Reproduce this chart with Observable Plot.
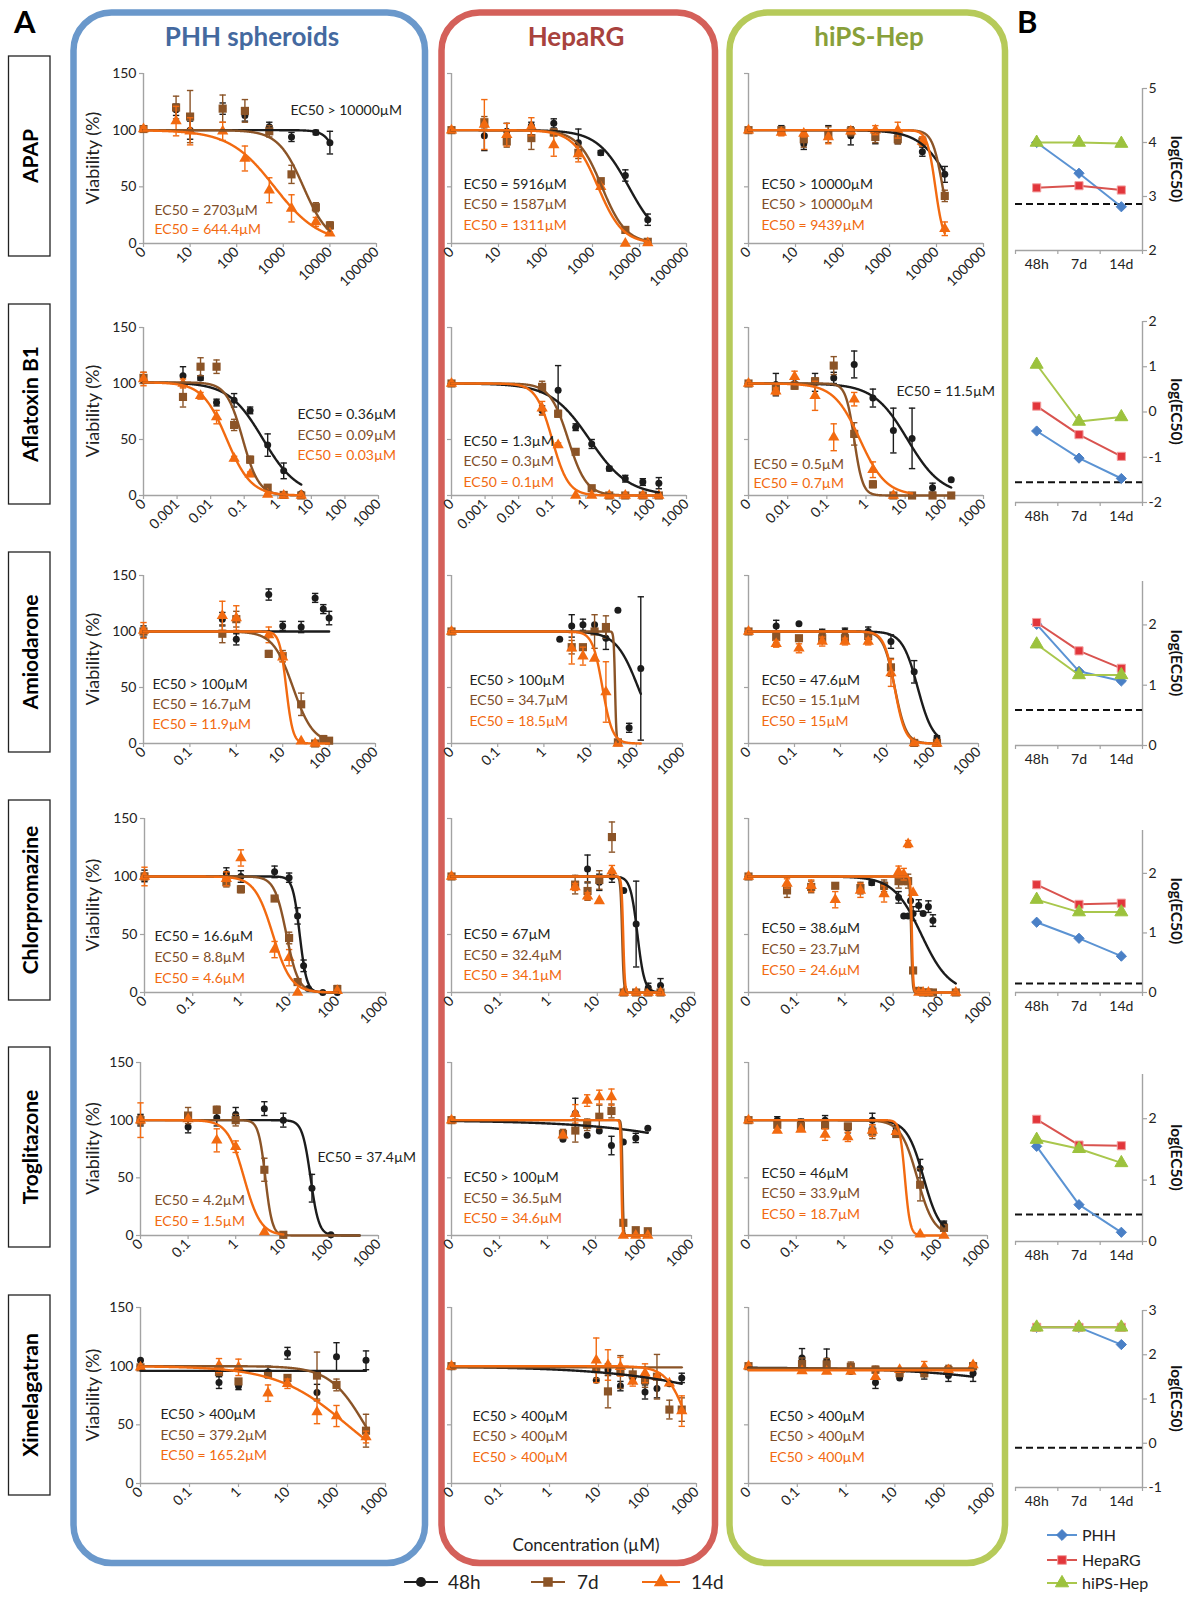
<!DOCTYPE html>
<html>
<head>
<meta charset="utf-8">
<script src="https://cdn.jsdelivr.net/npm/d3@7"></script>
<script src="https://cdn.jsdelivr.net/npm/@observablehq/plot@0.6"></script>
<style>
  html, body { margin: 0; padding: 0; background: #fff; }
  #root { position: relative; width: 1194px; height: 1597px; background: #fff; overflow: hidden; font-family: Lato, "Noto Sans", sans-serif; }
  #root > svg, #root > .pp { position: absolute; }
</style>
</head>
<body>
<div id="root"></div>
<script>
// ---------------- categories & labels ----------------
const drugs = ["APAP", "Aflatoxin B1", "Amiodarone", "Chlorpromazine", "Troglitazone", "Ximelagatran"];
const cellModels = ["PHH spheroids", "HepaRG", "hiPS-Hep"];
const timepoints = ["48h", "7d", "14d"];
const bModels = ["PHH", "HepaRG", "hiPS-Hep"];
const bCategories = ["48h", "7d", "14d"];

// x tick labels
const ticksAPAP = ["0", "10", "100", "1000", "10000", "100000"];
const ticksAfla = ["0", "0.001", "0.01", "0.1", "1", "10", "100", "1000"];
const ticksAflaIPS = ["0", "0.01", "0.1", "1", "10", "100", "1000"];
const ticksStd = ["0", "0.1", "1", "10", "100", "1000"];
const yTicksA = [0, 50, 100, 150];

// ---------------- data: [concentration µM, viability %, error] ----------------
// APAP
const apapPHH48 = [[0,101,2],[5,118,5],[10,100,8],[50,119,5],[150,113,5],[500,103,4],[1500,94,4],[5000,98,2],[10000,89,10]];
const apapPHH7 = [[0,101,2],[5,120,10],[10,112,23],[50,119,12],[150,117,10],[500,99,5],[1500,61,8],[5000,32,4],[10000,16,3]];
const apapPHH14 = [[0,101,2],[5,108,13],[10,99,12],[50,99,8],[150,75,11],[500,47,11],[1500,31,12],[5000,19,4],[10000,9,1]];
const apapHRG48 = [[0,100,1],[5,95,13],[15,99,7],[50,104,3],[150,106,4],[500,89,12],[1500,80,2],[5000,60,5],[15000,21,5]];
const apapHRG7 = [[0,100,1],[5,107,5],[15,90,5],[50,93,10],[150,98,3],[500,80,5],[1500,55,2],[5000,12,2],[15000,1.5,1]];
const apapHRG14 = [[0,100,1],[5,105,22],[15,96,10],[50,103,8],[150,87,10],[500,79,7],[1500,50,2],[5000,0,0],[15000,0.5,1]];
const apapIPS48 = [[0,100,1],[5,100,4],[15,88,5],[50,98,6],[150,95,8],[500,94,6],[1500,92,4],[5000,81,4],[15000,61,7]];
const apapIPS7 = [[0,100,1],[5,100,2],[15,92,7],[50,96,7],[150,99,4],[500,94,5],[1500,92,4],[5000,90,4],[15000,42,5]];
const apapIPS14 = [[0,100,1],[5,98,3],[15,97,3],[50,94,6],[150,99,2],[500,100,4],[1500,100,7],[5000,90,4],[15000,13,6]];
// Aflatoxin B1
const aflaPHH48 = [[0,104,3],[0.0015,107,8],[0.005,105,2],[0.015,83,3],[0.05,85,6],[0.15,76,3],[0.5,45,10],[1.5,22,7],[5,1.5,1]];
const aflaPHH7 = [[0,105,5],[0.0015,88,9],[0.005,115,8],[0.015,115,6],[0.05,63,5],[0.15,32,3],[0.5,7,1],[1.5,0.5,0],[5,0,0]];
const aflaPHH14 = [[0,104,6],[0.0015,100,4],[0.005,89,3],[0.015,70,6],[0.05,33,2],[0.15,19,2],[0.5,1,1],[1.5,0,0],[5,0,0]];
const aflaHRG48 = [[0,100,1],[0.05,76,4],[0.15,94,22],[0.5,61,3],[1.5,46,4],[5,24,2],[15,15,3],[50,12,3],[150,11,5]];
const aflaHRG7 = [[0,100,1],[0.05,97,5],[0.15,73,3],[0.5,39,2],[1.5,6.5,1],[5,0,0],[15,0,0],[50,0,0],[150,0,0]];
const aflaHRG14 = [[0,100,1],[0.05,78,6],[0.15,45,2],[0.5,0,0],[1.5,0,0],[5,0,0],[15,0,0],[50,0,0],[150,0,0]];
const aflaIPS48 = [[0,100,1],[0.005,99,10],[0.015,100,4],[0.05,101,8],[0.15,105,5],[0.5,117,12],[1.5,87,8],[5,58,20],[15,51,27],[50,7,4],[150,14,0]];
const aflaIPS7 = [[0,100,1],[0.005,95,5],[0.015,98,3],[0.05,102,3],[0.15,116,8],[0.5,55,10],[1.5,10,3],[5,0,0],[15,0,0],[50,0,0],[150,0,0]];
const aflaIPS14 = [[0,100,1],[0.005,93,3],[0.015,106,5],[0.05,89,13],[0.15,52,12],[0.5,86,6],[1.5,23,7],[5,0,0]];
// Amiodarone
const amioPHH48 = [[0,100,5],[0.5,111,6],[1,93,5],[5,133,5],[10,105,4],[25,104,5],[50,130,4],[75,120,4],[100,112,6]];
const amioPHH7 = [[0,100,3],[0.5,98,8],[1,111,7],[5,80,3],[10,78,5],[25,35,10],[50,0,0],[75,4,3],[100,2.5,1]];
const amioPHH14 = [[0,101,7],[0.5,114,13],[1,112,11],[5,97,7],[10,77,4],[25,2,0],[50,0,0]];
const amioHRG48 = [[0,100,1],[2.2,93,0],[4,105,10],[7,106,5],[12.5,106,0],[22,94,10],[40,119,0],[70,14,4],[125,67,64]];
const amioHRG7 = [[0,100,1],[4,86,6],[7,86,0],[12.5,100,15],[22,104,10],[40,1,0]];
const amioHRG14 = [[0,100,1],[4,85,14],[7,78,8],[12.5,76,0],[22,46,27],[40,0,0]];
const amioIPS48 = [[0,100,1],[0.04,105,5],[0.125,107,0],[0.4,99,3],[1.25,100,3],[4,100,4],[12.5,91,6],[40,64,10],[125,5,2]];
const amioIPS7 = [[0,100,1],[0.04,95,5],[0.125,94,0],[0.4,94,4],[1.25,94,4],[4,96,4],[12.5,68,8],[40,0.5,0],[125,0.5,0]];
const amioIPS14 = [[0,100,1],[0.04,89,3],[0.125,85,4],[0.4,91,4],[1.25,91,3],[4,91,3],[12.5,63,12],[40,0.5,0],[125,0,0]];
// Chlorpromazine
const chlorPHH48 = [[0,100.5,5],[0.5,102.5,5],[1,100,5],[5,104,5],[10,99,4],[15,66,7],[20,23,5],[25,3.4,1],[50,0,0],[100,0,0]];
const chlorPHH7 = [[0,100,3],[0.5,95,4],[1,89,3],[5,81,2],[10,47,5],[15,9,1],[100,3,3]];
const chlorPHH14 = [[0,100,8],[0.5,98,6],[1,116,7],[5,37,7],[10,30,7],[15,0,0],[100,1.5,0]];
const chlorHRG48 = [[0,100,1],[6.3,106.5,12],[11,95,7],[20,100,5],[35,88,0],[63,59,37],[112,4,4],[200,6,6]];
const chlorHRG7 = [[0,100,1],[3.5,93,8],[6.3,87.5,8],[11,97,8],[20,134,13],[35,0,0],[63,0,0],[112,0,0],[200,0,0]];
const chlorHRG14 = [[0,100,1],[3.5,91,3],[6.3,83,3],[11,79,0],[20,104.5,5],[35,0,0],[63,0,0],[112,0,0],[200,0,0]];
const chlorIPS48 = [[0,100,1],[3.6,94.6,2],[6.5,92,3],[13,82,5],[16.6,66,0],[20.5,66,0],[23,79,0],[26,68,6],[34,75,5],[42,68,0],[54,74,5],[67,62,5]];
const chlorIPS7 = [[0,100,1],[0.063,88,6],[0.2,91,5],[0.63,92,0],[2.1,90,5],[6.5,92,5],[13,96,6],[16.6,96,0],[20.5,96,6],[26,19,0],[34,1.4,0],[42,0,0],[54,0,0],[67,0,0],[200,0,0]];
const chlorIPS14 = [[0,100,1],[0.063,94,4],[0.2,92,5],[0.63,80,7],[2.1,88,6],[6.5,85,7],[13,104,5],[16.6,102,5],[20.5,128,3],[26,86,0],[34,0,0],[42,0,0],[54,0,0],[200,0,0]];
// Troglitazone
const trogPHH48 = [[0,100,5],[0.1,94,5],[0.4,102,7],[1,105,6],[4,110,6],[10,100,6],[40,41,12],[100,0.6,0]];
const trogPHH7 = [[0,100,4],[0.1,104,7],[0.4,109,3],[1,100,5],[4,57,10],[10,0.6,0]];
const trogPHH14 = [[0,100,15],[0.1,101,0],[0.4,82.5,10],[1,77,5],[4,3,0]];
const trogHRG48 = [[0,100,1],[2.1,83.5,0],[3.8,106,13],[6.7,87,0],[12,90.6,0],[21.5,78,8],[38,81,0],[69,84.6,4],[123,93,0]];
const trogHRG7 = [[0,100,1],[2.1,88,4],[3.8,91,10],[6.7,96,5],[12,103,10],[21.5,108,6],[38,11,0],[69,4.6,0],[123,3.7,0]];
const trogHRG14 = [[0,100,1],[2.1,87,0],[3.8,105.5,8],[6.7,117,5],[12,120,6],[21.5,120,7],[38,0,0],[69,0,0],[123,0,0]];
const trogIPS48 = [[0,100,1],[0.04,100,3],[0.125,98,3],[0.4,100,4],[1.2,93,4],[3.9,100,6],[12.3,93.5,0],[39,58,8],[123,9.5,3]];
const trogIPS7 = [[0,100,1],[0.04,96,0],[0.125,95,0],[0.4,95.5,0],[1.2,94.6,0],[3.9,90,6],[12.3,88,0],[39,44,14],[123,6.6,0]];
const trogIPS14 = [[0,100,1],[0.04,91,0],[0.125,92,0],[0.4,87.5,5],[1.2,85.5,4],[3.9,91,5],[12.3,90,0],[39,1,0],[123,0,0]];
// Ximelagatran
const ximePHH48 = [[0,105,0],[0.4,86,5],[1,83,3],[4,95,5],[10,111,5],[40,77.5,7],[100,108,12],[400,105,8]];
const ximePHH7 = [[0,99,0],[0.4,95,0],[1,87,0],[4,93.4,0],[10,90,0],[40,92,20],[100,84,5],[400,45,14]];
const ximePHH14 = [[0,99,0],[0.4,100.5,6],[1,99,7],[4,77,7],[10,85,4],[40,61,10],[100,57.5,9],[400,39.6,5]];
const ximeHRG48 = [[0,99.5,0],[9,88,0],[15.6,97,5],[28,83,4],[50,90,0],[89,78,6],[156,81,8],[280,85,0],[500,90,4]];
const ximeHRG7 = [[0,100,0],[9,97.5,8],[15.6,78.5,14],[28,95,14],[50,93,6],[89,88,6],[156,91,19],[280,63,8],[500,63,10]];
const ximeHRG14 = [[0,100,0],[9,105,19],[15.6,101,13],[28,99.5,8],[50,87,4],[89,94,8],[156,91,0],[280,85.5,0],[500,61.7,13]];
const ximeIPS48 = [[0,100,0],[0.125,107,8],[0.4,104.6,10],[1.25,95.4,0],[4,86,5],[12.5,90,0],[40,94,5],[125,92,5],[400,94,7]];
const ximeIPS7 = [[0,100,0],[0.125,102,5],[0.4,101.5,5],[1.25,99.5,4],[4,97,3],[12.5,94,0],[40,94,3],[125,96.7,4],[400,100,3]];
const ximeIPS14 = [[0,100,0],[0.125,96,0],[0.4,95.4,0],[1.25,95.4,0],[4,91,0],[12.5,97,0],[40,99,5],[125,96.7,0],[400,101,0]];

// ---------------- fitted curve parameters: [top, EC50 of fit, Hill slope, last concentration] ----------------
const apapPHHFit = [[100,20000,3,10000],[100,2703,1.6,10000],[100,644.4,0.9,10000]];
const apapHRGFit = [[100,5916,1.3,15000],[100,1587,1.7,15000],[100,1311,1.65,15000]];
const apapIPSFit = [[100,22000,1.3,15000],[100,13500,4,15000],[100,9439,5,15000]];
const aflaPHHFit = [[101,0.36,0.85,5],[101,0.09,1.8,5],[101,0.03,1.2,5]];
const aflaHRGFit = [[100,1.3,0.75,150],[100,0.3,1.6,150],[100,0.1,1.8,150]];
const aflaIPSFit = [[100,11.5,1,150],[100,0.5,4,150],[100,0.7,1.3,15]];
const amioPHHFit = [[100,1e9,1,100],[100,16.7,2,100],[100,11.9,6,100]];
const amioHRGFit = [[100,110,1.8,125],[100,34.7,30,40],[100,18.5,4,125]];
const amioIPSFit = [[100,47.6,2.6,125],[100,15.1,3.5,125],[100,15,3.8,125]];
const chlorPHHFit = [[100,16.6,6,100],[100,8.8,3.5,100],[100,4.6,2.3,100]];
const chlorHRGFit = [[100,67,6,200],[100,32.4,25,200],[100,34.1,25,200]];
const chlorIPSFit = [[100,38.6,1.5,200],[100,23.7,30,200],[100,24.6,30,200]];
const trogPHHFit = [[100,37.4,5,400],[100,4.2,6,400],[100,1.5,2.5,10]];
const trogHRGFit = [[100,130000,0.3,123],[100,36.5,40,123],[100,34.6,40,123]];
const trogIPSFit = [[100,46,2.5,123],[100,33.9,2.5,123],[100,18.7,8,123]];
const ximePHHFit = [[96,1e9,1,400],[100,379.2,1.2,400],[100,165.2,0.6,400]];
const ximeHRGFit = [[100,160000,0.3,500],[99,1e9,1,500],[100,700,2,500]];
const ximeIPSFit = [[99,1.3e6,0.3,400],[98,1e9,1,400],[96.5,1e9,1,400]];

// ---------------- EC50 annotation texts ----------------
const apapPHHEC50 = ["EC50 > 10000µM", "EC50 = 2703µM", "EC50 = 644.4µM"];
const apapHRGEC50 = ["EC50 = 5916µM", "EC50 = 1587µM", "EC50 = 1311µM"];
const apapIPSEC50 = ["EC50 > 10000µM", "EC50 > 10000µM", "EC50 = 9439µM"];
const aflaPHHEC50 = ["EC50 = 0.36µM", "EC50 = 0.09µM", "EC50 = 0.03µM"];
const aflaHRGEC50 = ["EC50 = 1.3µM", "EC50 = 0.3µM", "EC50 = 0.1µM"];
const aflaIPSEC50 = ["EC50 = 11.5µM", "EC50 = 0.5µM", "EC50 = 0.7µM"];
const amioPHHEC50 = ["EC50 > 100µM", "EC50 = 16.7µM", "EC50 = 11.9µM"];
const amioHRGEC50 = ["EC50 > 100µM", "EC50 = 34.7µM", "EC50 = 18.5µM"];
const amioIPSEC50 = ["EC50 = 47.6µM", "EC50 = 15.1µM", "EC50 = 15µM"];
const chlorPHHEC50 = ["EC50 = 16.6µM", "EC50 = 8.8µM", "EC50 = 4.6µM"];
const chlorHRGEC50 = ["EC50 = 67µM", "EC50 = 32.4µM", "EC50 = 34.1µM"];
const chlorIPSEC50 = ["EC50 = 38.6µM", "EC50 = 23.7µM", "EC50 = 24.6µM"];
const trogPHHEC50 = ["EC50 = 37.4µM", "EC50 = 4.2µM", "EC50 = 1.5µM"];
const trogHRGEC50 = ["EC50 > 100µM", "EC50 = 36.5µM", "EC50 = 34.6µM"];
const trogIPSEC50 = ["EC50 = 46µM", "EC50 = 33.9µM", "EC50 = 18.7µM"];
const ximePHHEC50 = ["EC50 > 400µM", "EC50 = 379.2µM", "EC50 = 165.2µM"];
const ximeHRGEC50 = ["EC50 > 400µM", "EC50 > 400µM", "EC50 > 400µM"];
const ximeIPSEC50 = ["EC50 > 400µM", "EC50 > 400µM", "EC50 > 400µM"];

// ---------------- panel B: log(EC50) per drug (rows) x timepoint ----------------
const logEC50PHH = [[4.0,3.43,2.81],[-0.42,-1.02,-1.47],[2.01,1.23,1.07],[1.18,0.91,0.61],[1.55,0.60,0.15],[2.62,2.62,2.23]];
const logEC50HepaRG = [[3.16,3.20,3.12],[0.13,-0.50,-0.98],[2.04,1.57,1.28],[1.81,1.48,1.50],[1.99,1.57,1.56],[2.62,2.62,2.62]];
const logEC50HiPS = [[4.0,4.0,3.98],[1.05,-0.21,-0.11],[1.68,1.17,1.17],[1.56,1.35,1.35],[1.66,1.51,1.28],[2.62,2.62,2.62]];
const logEC50Threshold = [2.86, -1.55, 0.59, 0.15, 0.44, -0.1];
const bYDomains = [[2,5],[-2,2],[0,2.72],[0,2.72],[0,2.72],[-1,3]];
const bYTicks = [[2,3,4,5],[-2,-1,0,1,2],[0,1,2],[0,1,2],[0,1,2],[-1,0,1,2,3]];

// ---------------- assemble panel tables ----------------
const PANELS = [
  [ {s:[apapPHH48,apapPHH7,apapPHH14], fit:apapPHHFit, ec:apapPHHEC50, ticks:ticksAPAP},
    {s:[apapHRG48,apapHRG7,apapHRG14], fit:apapHRGFit, ec:apapHRGEC50, ticks:ticksAPAP},
    {s:[apapIPS48,apapIPS7,apapIPS14], fit:apapIPSFit, ec:apapIPSEC50, ticks:ticksAPAP} ],
  [ {s:[aflaPHH48,aflaPHH7,aflaPHH14], fit:aflaPHHFit, ec:aflaPHHEC50, ticks:ticksAfla},
    {s:[aflaHRG48,aflaHRG7,aflaHRG14], fit:aflaHRGFit, ec:aflaHRGEC50, ticks:ticksAfla},
    {s:[aflaIPS48,aflaIPS7,aflaIPS14], fit:aflaIPSFit, ec:aflaIPSEC50, ticks:ticksAflaIPS} ],
  [ {s:[amioPHH48,amioPHH7,amioPHH14], fit:amioPHHFit, ec:amioPHHEC50, ticks:ticksStd},
    {s:[amioHRG48,amioHRG7,amioHRG14], fit:amioHRGFit, ec:amioHRGEC50, ticks:ticksStd},
    {s:[amioIPS48,amioIPS7,amioIPS14], fit:amioIPSFit, ec:amioIPSEC50, ticks:ticksStd} ],
  [ {s:[chlorPHH48,chlorPHH7,chlorPHH14], fit:chlorPHHFit, ec:chlorPHHEC50, ticks:ticksStd},
    {s:[chlorHRG48,chlorHRG7,chlorHRG14], fit:chlorHRGFit, ec:chlorHRGEC50, ticks:ticksStd},
    {s:[chlorIPS48,chlorIPS7,chlorIPS14], fit:chlorIPSFit, ec:chlorIPSEC50, ticks:ticksStd} ],
  [ {s:[trogPHH48,trogPHH7,trogPHH14], fit:trogPHHFit, ec:trogPHHEC50, ticks:ticksStd},
    {s:[trogHRG48,trogHRG7,trogHRG14], fit:trogHRGFit, ec:trogHRGEC50, ticks:ticksStd},
    {s:[trogIPS48,trogIPS7,trogIPS14], fit:trogIPSFit, ec:trogIPSEC50, ticks:ticksStd} ],
  [ {s:[ximePHH48,ximePHH7,ximePHH14], fit:ximePHHFit, ec:ximePHHEC50, ticks:ticksStd},
    {s:[ximeHRG48,ximeHRG7,ximeHRG14], fit:ximeHRGFit, ec:ximeHRGEC50, ticks:ticksStd},
    {s:[ximeIPS48,ximeIPS7,ximeIPS14], fit:ximeIPSFit, ec:ximeIPSEC50, ticks:ticksStd} ]
];

// ---------------- layout & style ----------------
const FONT = "Lato, 'Noto Sans', sans-serif";
const GRAY = "#a3a3a3";
const SERIES_FILL = ["#1c1c1c", "#8b5427", "#f26a10"];
const SERIES_TEXT = ["#231f20", "#7e4d28", "#f26a10"];
const SERIES_SYMBOL = ["circle", "square", "triangle"];
const SERIES_R = [3.5, 4.6, 4.2];
const ROW_Y = [[73,243],[327,495],[575,743],[818,992],[1062,1235],[1307,1483]];
const AXIS_X0 = [[143,143,143,144,140,140],[451,451,451,451,451,451],[748,748,748,748,748,748]];
const AXIS_X1 = [[376,378,375,385,378,385],[686,686,682,694,691,696],[983,983,978,989,987,992]];
// annotation layout: [dx from y-axis (px), y (viability units)] for 48h, 7d, 14d labels
const LABEL_POS = [
  [[[147,117],[11,29],[11,12]], [[12,52],[12,34],[12,16]], [[13,52],[13,34],[13,16]]],
  [[[154,72],[154,54],[154,36]], [[12,48],[12,30],[12,12]], [[148,93],[5,28],[5,11]]],
  [[[9,53],[9,35],[9,17]], [[18,56],[18,38],[18,20]], [[13,56],[13,38],[13,20]]],
  [[[10,48],[10,30],[10,12]], [[12,50],[12,32],[12,14.5]], [[13,55],[13,37],[13,19]]],
  [[[177,68],[14,30.4],[14,12.5]], [[12,50],[12,32.4],[12,14.6]], [[13,54],[13,36],[13,18]]],
  [[[20,59],[20,41],[20,23.5]], [[21,57.5],[21,40],[21,22.4]], [[21,57],[21,40],[21,22.4]]]
];
const B_X = [1015, 1142];
const B_Y = [[88,250],[321,502],[581,745],[830,992],[1074,1241],[1310,1487]];
const B_COLORS = [{line:"#5b93d3", fill:"#4a80c6", stroke:"#4a80c6", symbol:"diamond2", r:4.6},
                  {line:"#d9534f", fill:"#e2363b", stroke:"#f2a0a0", symbol:"square", r:4.6},
                  {line:"#a9c74c", fill:"#9cc23d", stroke:"#9cc23d", symbol:"triangle", r:4.8}];
const BOX_COLORS = ["#6a98cb", "#d4605a", "#b6ca5a"];
const TITLE_COLORS = ["#44699f", "#a8423d", "#88a03a"];
const BOX_X = [[73.5,425],[441.5,715],[729.5,1005]];
const TITLE_X = [252, 576, 869];
const ROW_BOX_CY = [156, 404, 652, 900, 1147, 1395];

const root = document.getElementById("root");

// ---------------- overlay (frames, titles, legends, axis titles) ----------------
const svg = d3.select(root).append("svg").attr("width", 1194).attr("height", 1597)
  .style("left", "0px").style("top", "0px").style("font-family", FONT);
cellModels.forEach((name, i) => {
  const [x0, x1] = BOX_X[i];
  svg.append("rect").attr("x", x0).attr("y", 12.5).attr("width", x1 - x0).attr("height", 1563 - 12.5)
    .attr("rx", 38).attr("ry", 38).attr("fill", "none").attr("stroke", BOX_COLORS[i]).attr("stroke-width", 6.5);
  svg.append("text").attr("x", TITLE_X[i]).attr("y", 46).attr("text-anchor", "middle")
    .attr("font-size", 26).attr("font-weight", "bold").attr("fill", TITLE_COLORS[i]).text(name);
});
svg.append("text").attr("x", 14).attr("y", 33).attr("font-size", 31).attr("font-weight", "bold").attr("fill", "#000").text("A");
svg.append("text").attr("x", 1017).attr("y", 33).attr("font-size", 31).attr("font-weight", "bold").attr("fill", "#000").text("B");
drugs.forEach((d, i) => {
  const cy = ROW_BOX_CY[i];
  svg.append("rect").attr("x", 8.5).attr("y", cy - 100).attr("width", 41.5).attr("height", 200)
    .attr("fill", "#fff").attr("stroke", "#222").attr("stroke-width", 1.3);
  svg.append("text").attr("transform", `translate(29,${cy}) rotate(-90)`).attr("text-anchor", "middle")
    .attr("dominant-baseline", "central").attr("font-size", 21).attr("font-weight", "bold").attr("fill", "#000").text(d);
  // y-axis title of the PHH column
  const [yt, yb] = ROW_Y[i];
  svg.append("text").attr("transform", `translate(92,${(yt + yb) / 2}) rotate(-90)`).attr("text-anchor", "middle")
    .attr("dominant-baseline", "central").attr("font-size", 18).attr("fill", "#222").text("Viability (%)");
  // panel B axis title
  const [bt, bb] = B_Y[i];
  svg.append("text").attr("transform", `translate(1177,${(bt + bb) / 2}) rotate(90)`).attr("text-anchor", "middle")
    .attr("dominant-baseline", "central").attr("font-size", 15.5).attr("font-weight", "bold").attr("fill", "#111").text("log(EC50)");
});
svg.append("text").attr("x", 586).attr("y", 1551).attr("text-anchor", "middle").attr("font-size", 17).attr("fill", "#222").text("Concentration (µM)");
// bottom legend (timepoints)
const legA = [[404, 438, 448], [531, 565, 577], [642, 680, 691]];
timepoints.forEach((t, k) => {
  const [a, b, tx] = legA[k]; const y = 1582; const cx = (a + b) / 2;
  svg.append("line").attr("x1", a).attr("x2", b).attr("y1", y).attr("y2", y).attr("stroke", SERIES_FILL[k]).attr("stroke-width", 2.2);
  svg.append("path").attr("d", d3.symbol(k === 0 ? d3.symbolCircle : k === 1 ? d3.symbolSquare : d3.symbolTriangle, k === 0 ? 80 : 90)())
    .attr("transform", `translate(${cx},${y})`).attr("fill", SERIES_FILL[k]);
  svg.append("text").attr("x", tx).attr("y", y + 6.5).attr("font-size", 19).attr("fill", "#222").text(t);
});
// panel B legend
bModels.forEach((m, k) => {
  const y = [1535, 1560, 1583][k]; const c = B_COLORS[k];
  svg.append("line").attr("x1", 1047).attr("x2", 1077).attr("y1", y).attr("y2", y).attr("stroke", c.line).attr("stroke-width", 2);
  svg.append("path").attr("d", d3.symbol(k === 0 ? d3.symbolDiamond2 : k === 1 ? d3.symbolSquare : d3.symbolTriangle, 75)())
    .attr("transform", `translate(1062,${y})`).attr("fill", c.fill).attr("stroke", c.stroke).attr("stroke-width", 1);
  svg.append("text").attr("x", 1082).attr("y", y + 5.5).attr("font-size", 16).attr("fill", "#222").text(m);
});

// ---------------- helpers ----------------
const capSymbol = { draw(ctx, size) { const w = Math.sqrt(size) / 2; ctx.moveTo(-w, 0); ctx.lineTo(w, 0); } };
function hill(top, ec50, h, c) { return top / (1 + Math.pow(c / ec50, h)); }
function place(el, left, top) {
  el.classList.add("pp");
  el.style.position = "absolute"; el.style.left = left + "px"; el.style.top = top + "px";
  root.appendChild(el);
}

// ---------------- panel A plots ----------------
function panelA(row, col) {
  const P = PANELS[row][col];
  const labels = P.ticks;
  const zero = Math.log10(parseFloat(labels[1])) - 1;
  const maxP = zero + labels.length - 1;
  const pos = c => c === 0 ? zero : Math.log10(c);
  const ax = AXIS_X0[col][row], ae = AXIS_X1[col][row];
  const [yt, yb] = ROW_Y[row];
  const ml = 70, mr = 14, mt = 10, mb = 60;
  const W = ml + (ae - ax) + mr, H = mt + (yb - yt) + mb;

  const marks = [
    Plot.ruleX([zero], {stroke: GRAY, strokeWidth: 1.4}),
    Plot.ruleY([0], {stroke: GRAY, strokeWidth: 1.4}),
    Plot.axisY({ticks: yTicksA, tickSize: 4, tickPadding: 3, stroke: GRAY, strokeWidth: 1.2, fill: "#222",
      tickFormat: col === 0 ? d => String(d) : () => "", label: null, fontSize: 14}),
    Plot.axisX({ticks: labels.map((l, i) => zero + i), tickFormat: d => labels[Math.round(d - zero)],
      tickRotate: -45, tickSize: 4, tickPadding: 2, stroke: GRAY, strokeWidth: 1.2, fill: "#222", label: null, fontSize: 14})
  ];

  // points with error bars
  [0, 1, 2].forEach(k => {
    const d = P.s[k].map(([c, v, e]) => ({x: pos(c), v, e}));
    const de = d.filter(r => r.e > 0);
    marks.push(Plot.ruleX(de, {x: "x", y1: r => r.v - r.e, y2: r => r.v + r.e, stroke: SERIES_FILL[k], strokeWidth: 1.4}));
    marks.push(Plot.dot(de, {x: "x", y: r => r.v + r.e, symbol: capSymbol, r: 3.6, stroke: SERIES_FILL[k], strokeWidth: 1.4, fill: "none"}));
    marks.push(Plot.dot(de, {x: "x", y: r => r.v - r.e, symbol: capSymbol, r: 3.6, stroke: SERIES_FILL[k], strokeWidth: 1.4, fill: "none"}));
    marks.push(Plot.dot(d, {x: "x", y: "v", symbol: SERIES_SYMBOL[k], r: SERIES_R[k], fill: SERIES_FILL[k], stroke: "none"}));
  });
  // fitted curves
  [0, 1, 2].forEach(k => {
    const [top, ec50, h, end] = P.fit[k];
    const pEnd = Math.log10(end);
    const n = 900; const pts = [];
    for (let i = 0; i <= n; i++) { const p = zero + (pEnd - zero) * i / n; pts.push({x: p, y: hill(top, ec50, h, Math.pow(10, p))}); }
    marks.push(Plot.line(pts, {x: "x", y: "y", stroke: SERIES_FILL[k], strokeWidth: 2.4}));
  });
  // EC50 annotations
  [0, 1, 2].forEach(k => {
    const [dx, yv] = LABEL_POS[row][col][k];
    marks.push(Plot.text([P.ec[k]], {frameAnchor: "left", y: [yv], dx, textAnchor: "start", fill: SERIES_TEXT[k], fontSize: 14}));
  });

  const plot = Plot.plot({
    width: W, height: H, marginLeft: ml, marginRight: mr, marginTop: mt, marginBottom: mb,
    style: {background: "transparent", fontFamily: FONT, fontSize: "14px", color: "#222", overflow: "visible"},
    x: {type: "linear", domain: [zero, maxP]},
    y: {domain: [0, 150]},
    marks
  });
  place(plot, ax - ml, yt - mt);
}

// ---------------- panel B plots ----------------
function panelB(row) {
  const dom = bYDomains[row];
  const [yt, yb] = B_Y[row];
  const [x0, x1] = B_X;
  const ml = 6, mr = 30, mt = 6, mb = 32;
  const W = ml + (x1 - x0) + mr, H = mt + (yb - yt) + mb;
  const series = [logEC50PHH[row], logEC50HepaRG[row], logEC50HiPS[row]];
  const marks = [
    Plot.ruleY([dom[0]], {stroke: GRAY, strokeWidth: 1.4}),
    Plot.ruleX([3], {stroke: GRAY, strokeWidth: 1.4}),
    Plot.axisX({ticks: [0, 1, 2, 3], tickFormat: () => "", tickSize: 4, stroke: GRAY, strokeWidth: 1.2, label: null}),
    Plot.axisX({ticks: [0.5, 1.5, 2.5], tickFormat: d => bCategories[Math.floor(d)], tickSize: 0, tickPadding: 9, fill: "#222", label: null, fontSize: 14}),
    Plot.axisY({anchor: "right", ticks: bYTicks[row], tickFormat: d => String(d), tickSize: 4, tickPadding: 2, stroke: GRAY, strokeWidth: 1.2, fill: "#222", label: null, fontSize: 14}),
    Plot.ruleY([logEC50Threshold[row]], {stroke: "#111", strokeWidth: 2, strokeDasharray: "7,4"})
  ];
  series.forEach((vals, k) => {
    const d = vals.map((v, i) => ({x: i + 0.5, v}));
    const c = B_COLORS[k];
    marks.push(Plot.line(d, {x: "x", y: "v", stroke: c.line, strokeWidth: 2}));
    marks.push(Plot.dot(d, {x: "x", y: "v", symbol: c.symbol, r: c.r, fill: c.fill, stroke: c.stroke, strokeWidth: 1}));
  });
  const plot = Plot.plot({
    width: W, height: H, marginLeft: ml, marginRight: mr, marginTop: mt, marginBottom: mb,
    style: {background: "transparent", fontFamily: FONT, fontSize: "14px", color: "#222", overflow: "visible"},
    x: {type: "linear", domain: [0, 3]},
    y: {domain: dom},
    marks
  });
  place(plot, x0 - ml, yt - mt);
}

for (let r = 0; r < 6; r++) { for (let c = 0; c < 3; c++) panelA(r, c); panelB(r); }
</script>
</body>
</html>
